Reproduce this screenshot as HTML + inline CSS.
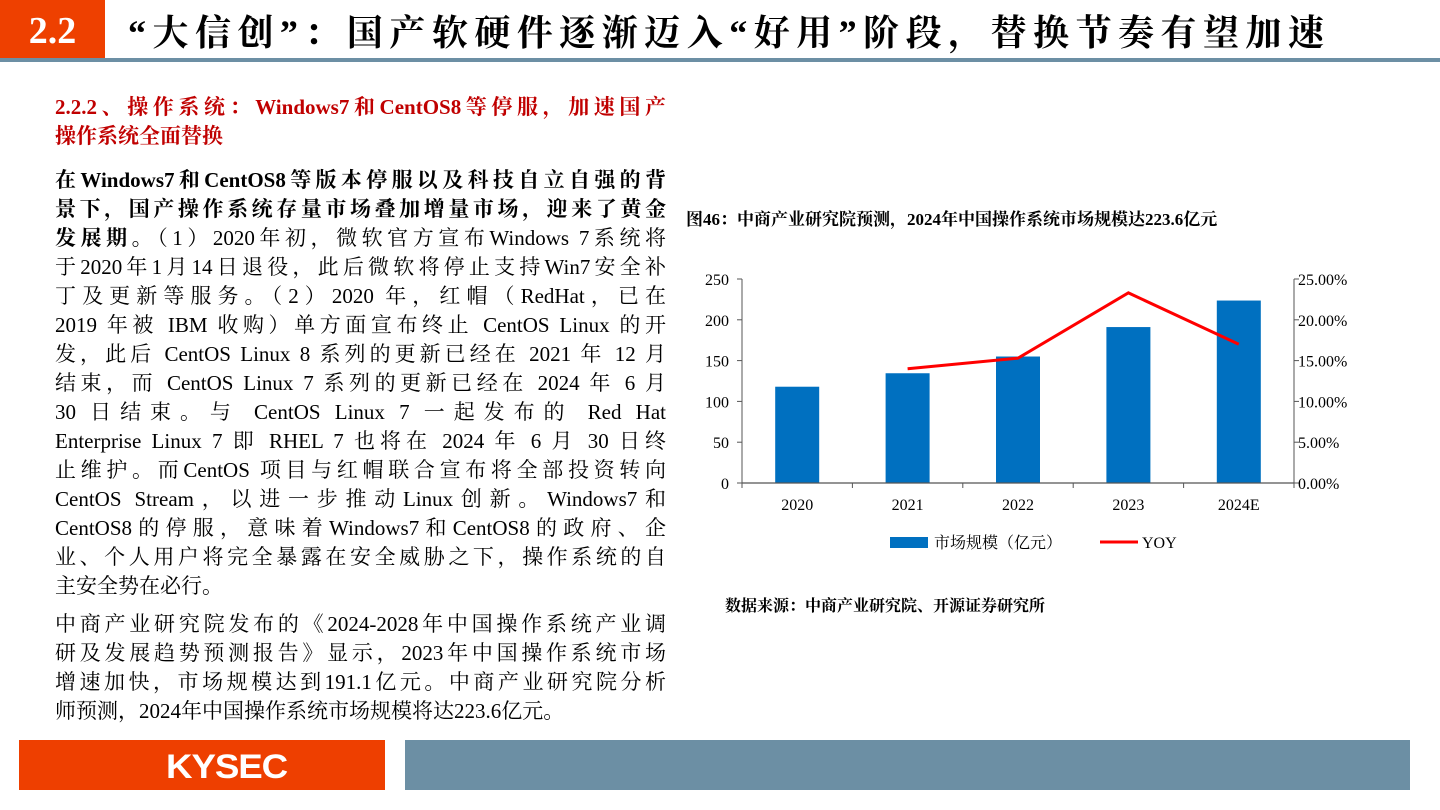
<!DOCTYPE html>
<html><head><meta charset="utf-8">
<style>
body{margin:0;width:1440px;height:810px;background:#fff;position:relative;overflow:hidden;font-family:"Liberation Serif","Noto Serif CJK SC",serif;color:#000}
.abs{position:absolute}
.ln{position:absolute;left:55px;width:611px;height:29px;line-height:29px;font-size:21px;white-space:nowrap;text-align:justify;text-align-last:justify}
.ln.last{text-align-last:left}
b{font-weight:bold}
</style></head><body>
<div class="abs" style="left:0;top:0;width:105px;height:59px;background:#ee4000;color:#fff;font-size:38px;font-weight:bold;line-height:62px;text-align:center">2.2</div>
<div class="abs" style="left:0;top:58px;width:1440px;height:4px;background:#6c8fa4"></div>
<div class="abs" style="left:128px;top:10px;width:1196px;font-size:36px;font-weight:bold;line-height:46px;text-align:justify;text-align-last:justify;white-space:nowrap">“大信创”：国产软硬件逐渐迈入“好用”阶段，替换节奏有望加速</div>

<div class="abs" style="left:55px;top:93px;width:611px;font-size:21px;font-weight:bold;color:#c00000;line-height:29px">
<div style="text-align:justify;text-align-last:justify;white-space:nowrap">2.2.2、操作系统：Windows7和CentOS8等停服，加速国产</div>
<div>操作系统全面替换</div></div>

<div>
<div class="ln" style="top:166px"><b>在Windows7和CentOS8等版本停服以及科技自立自强的背</b></div>
<div class="ln" style="top:195px"><b>景下，国产操作系统存量市场叠加增量市场，迎来了黄金</b></div>
<div class="ln" style="top:224px"><b>发展期。</b>（1）2020年初，微软官方宣布Windows 7系统将</div>
<div class="ln" style="top:253px">于2020年1月14日退役，此后微软将停止支持Win7安全补</div>
<div class="ln" style="top:282px">丁及更新等服务。（2）2020 年，红帽（RedHat，已在</div>
<div class="ln" style="top:311px">2019 年被 IBM 收购）单方面宣布终止 CentOS Linux 的开</div>
<div class="ln" style="top:340px">发，此后 CentOS Linux 8 系列的更新已经在 2021 年 12 月</div>
<div class="ln" style="top:369px">结束，而 CentOS Linux 7 系列的更新已经在 2024 年 6 月</div>
<div class="ln" style="top:398px">30 日结束。与 CentOS Linux 7 一起发布的 Red Hat</div>
<div class="ln" style="top:427px">Enterprise Linux 7 即 RHEL 7 也将在 2024 年 6 月 30 日终</div>
<div class="ln" style="top:456px">止维护。而CentOS 项目与红帽联合宣布将全部投资转向</div>
<div class="ln" style="top:485px">CentOS Stream，以进一步推动Linux创新。Windows7和</div>
<div class="ln" style="top:514px">CentOS8的停服，意味着Windows7和CentOS8的政府、企</div>
<div class="ln" style="top:543px">业、个人用户将完全暴露在安全威胁之下，操作系统的自</div>
<div class="ln last" style="top:572px">主安全势在必行。</div>
</div>
<div>
<div class="ln" style="top:610px">中商产业研究院发布的《2024-2028年中国操作系统产业调</div>
<div class="ln" style="top:639px">研及发展趋势预测报告》显示，2023年中国操作系统市场</div>
<div class="ln" style="top:668px">增速加快，市场规模达到191.1亿元。中商产业研究院分析</div>
<div class="ln last" style="top:697px">师预测，2024年中国操作系统市场规模将达223.6亿元。</div>
</div>

<div class="abs" style="left:686px;top:208px;font-size:17px;font-weight:bold;line-height:24px;white-space:nowrap">图46：中商产业研究院预测，2024年中国操作系统市场规模达223.6亿元</div>
<div class="abs" style="left:725px;top:596px;font-size:16px;font-weight:bold;line-height:22px;white-space:nowrap">数据来源：中商产业研究院、开源证券研究所</div>

<svg class="abs" style="left:0;top:0" width="1440" height="810" id="chart"></svg>

<div class="abs" style="left:19px;top:740px;width:366px;height:50px;background:#ee3f00"></div>
<div class="abs" style="left:166px;top:747px;font-family:'Liberation Sans',sans-serif;font-weight:bold;font-size:34px;color:#fff;line-height:40px;letter-spacing:-1px;transform:scaleX(1.08);transform-origin:left">KYSEC</div>
<div class="abs" style="left:405px;top:740px;width:1005px;height:50px;background:#6c8fa4"></div>

<script>
const categories=["2020","2021","2022","2023","2024E"];
const marketSize=[118,134.5,155,191.1,223.6];
const yoy=[null,14.0,15.3,23.3,17.0];
const leftTicks=[0,50,100,150,200,250];
const rightTicks=[0,5,10,15,20,25];

const svg=document.getElementById('chart');
const NS='http://www.w3.org/2000/svg';
const X0=742,X1=1294,Y0=483,Y1=279;
const bw=(X1-X0)/categories.length;
const xc=i=>X0+bw*(i+0.5);
const yL=v=>Y0-(v/250)*(Y0-Y1);
const yR=v=>Y0-(v/25)*(Y0-Y1);
function mk(t,a){const e=document.createElementNS(NS,t);for(const k in a)e.setAttribute(k,a[k]);svg.appendChild(e);return e;}
const F='"Liberation Serif","Noto Serif CJK SC",serif';

marketSize.forEach((v,i)=>{
 const r=mk('rect',{x:xc(i)-22,y:yL(v),width:44,height:Y0-yL(v),fill:'#0070c0'});
 
 
});
mk('line',{x1:X0,y1:Y1,x2:X0,y2:Y0,stroke:'#555','stroke-width':1});
mk('line',{x1:X1,y1:Y1,x2:X1,y2:Y0,stroke:'#555','stroke-width':1});
mk('line',{x1:X0,y1:Y0,x2:X1,y2:Y0,stroke:'#555','stroke-width':1.2});
leftTicks.forEach(v=>{
 mk('line',{x1:X0-5,y1:yL(v),x2:X0,y2:yL(v),stroke:'#555'});
 const t=mk('text',{x:X0-13,y:yL(v)+6,'text-anchor':'end','font-size':16,'font-family':F});t.textContent=v;
 
 
});
rightTicks.forEach(v=>{
 mk('line',{x1:X1,y1:yR(v),x2:X1+5,y2:yR(v),stroke:'#555'});
 const t=mk('text',{x:X1+4,y:yR(v)+6,'font-size':16,'font-family':F});t.textContent=v.toFixed(2)+'%';
 
 
});
for(let i=0;i<=categories.length;i++){mk('line',{x1:X0+bw*i,y1:Y0,x2:X0+bw*i,y2:Y0+5,stroke:'#555'});}
categories.forEach((c,i)=>{
 const t=mk('text',{x:xc(i),y:Y0+27,'text-anchor':'middle','font-size':16,'font-family':F});t.textContent=c;
 
 
});
const pts=yoy.map((v,i)=>v==null?null:xc(i)+','+yR(v)).filter(p=>p);
const pl=mk('polyline',{points:pts.join(' '),fill:'none',stroke:'#ff0000','stroke-width':3});



const lb=mk('rect',{x:890,y:537,width:38,height:11,fill:'#0070c0'});


const lt=mk('text',{x:934,y:548,'font-size':16,'font-family':F});lt.textContent='市场规模（亿元）';


const ll=mk('line',{x1:1100,y1:542,x2:1138,y2:542,stroke:'#ff0000','stroke-width':3});


const lt2=mk('text',{x:1142,y:548,'font-size':16,'font-family':F});lt2.textContent='YOY';


</script>
</body></html>
